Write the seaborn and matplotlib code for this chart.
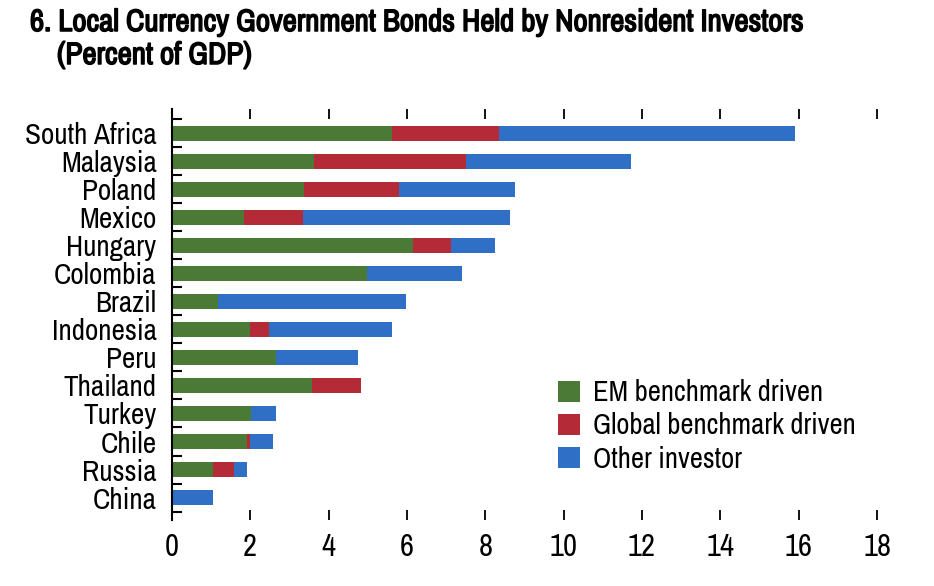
import numpy as np
import pandas as pd
import matplotlib
matplotlib.use("Agg")
import matplotlib.pyplot as plt
import matplotlib.patheffects as pe
import seaborn as sns

# values (percent of GDP)
countries = ["South Africa", "Malaysia", "Poland", "Mexico", "Hungary", "Colombia", "Brazil",
             "Indonesia", "Peru", "Thailand", "Turkey", "Chile", "Russia", "China"]
em_bench = [5.62, 3.62, 3.38, 1.84, 6.16, 4.99, 1.17, 1.99, 2.67, 3.57, 2.03, 1.91, 1.04, 0.0]
global_bench = [2.73, 3.88, 2.42, 1.50, 0.96, 0.0, 0.0, 0.49, 0.0, 1.26, 0.0, 0.08, 0.54, 0.0]
other_inv = [7.55, 4.22, 2.96, 5.29, 1.14, 2.41, 4.80, 3.15, 2.07, 0.0, 0.62, 0.58, 0.35, 1.04]

series = ["EM benchmark driven", "Global benchmark driven", "Other investor"]
colors = ["#4a7a36", "#b42a36", "#2f6fc5"]

sns.set_style("white")
plt.rcParams["font.family"] = ["Archivo Narrow", "DejaVu Sans"]

df = pd.DataFrame({"Country": countries, "EM": em_bench, "Global": global_bench, "Other": other_inv})
df["cum_em"] = df["EM"]
df["cum_global"] = df["EM"] + df["Global"]
df["cum_other"] = df["cum_global"] + df["Other"]

fig = plt.figure(figsize=(9.34, 5.86), dpi=100)
ax = fig.add_axes([0.184, 0.1126, 0.755, 0.7014])

# stacked bars: draw cumulative totals from the back to the front
for col, c, lab in zip(["cum_other", "cum_global", "cum_em"], colors[::-1], series[::-1]):
    sns.barplot(data=df, x=col, y="Country", color=c, width=0.53, saturation=1,
                ax=ax, label=lab, orient="h", linewidth=0)

ax.set_xlim(0, 18)
ax.set_ylim(13.8, -0.86)
ax.set_xlabel("")
ax.set_ylabel("")

ax.set_xticks(np.arange(0, 19, 2))
ax.tick_params(axis="x", which="major", direction="in", top=True, bottom=True,
               length=7, width=1.3, labelsize=22, pad=9, color="black", labelcolor="black")
ax.set_yticks(np.arange(len(countries)))
ax.set_yticklabels(countries)
ax.set_yticks(np.arange(len(countries) + 1) - 0.5, minor=True)
ax.tick_params(axis="y", which="major", length=0, labelsize=21, pad=11, labelcolor="black")
ax.tick_params(axis="y", which="minor", direction="in", length=7, width=1.5, color="black", left=True)

for s in ["top", "right", "bottom"]:
    ax.spines[s].set_visible(False)
ax.spines["left"].set_linewidth(1.5)
ax.spines["left"].set_color("black")

handles, labels = ax.get_legend_handles_labels()
order = [labels.index(s) for s in series]
leg = ax.legend([handles[i] for i in order], series, loc="center left",
                bbox_to_anchor=(0.548, 0.229), frameon=False, fontsize=20.6,
                borderpad=0, borderaxespad=0,
                handlelength=0.75, handleheight=0.75, handletextpad=0.45, labelspacing=0.22)
for t in leg.get_texts():
    t.set_color("black")

# title in bold (faux-bold stroke since the narrow face has no bold weight)
bold = [pe.withStroke(linewidth=1.1, foreground="black")]
fig.text(30 / 934, 1 - 8 / 586, "6. Local Currency Government Bonds Held by Nonresident Investors",
         fontsize=22.3, va="top", ha="left", color="black", path_effects=bold)
fig.text(57 / 934, 1 - 41 / 586, "(Percent of GDP)",
         fontsize=22.3, va="top", ha="left", color="black", path_effects=bold)

fig.savefig("out.png", dpi=100)
